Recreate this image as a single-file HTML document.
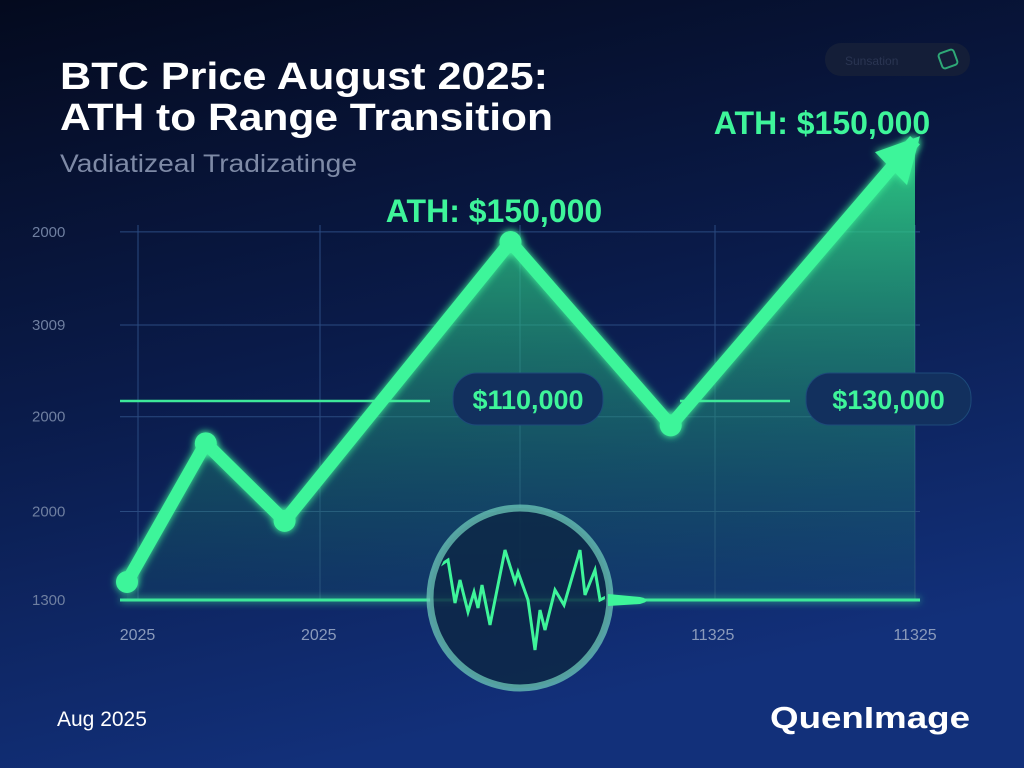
<!DOCTYPE html>
<html><head><meta charset="utf-8"><style>
html,body{margin:0;padding:0;width:1024px;height:768px;overflow:hidden;background:#07112e;}
svg{display:block;font-family:"Liberation Sans",sans-serif;}
</style></head><body>
<svg id="c" width="1024" height="768" viewBox="0 0 1024 768">
<defs>
<linearGradient id="bg" x1="0" y1="0" x2="0.3" y2="1"><stop offset="0" stop-color="#040a1e"/><stop offset="0.5" stop-color="#0a1b4a"/><stop offset="1" stop-color="#12307a"/></linearGradient>
<linearGradient id="fill" x1="0" y1="0" x2="0" y2="1"><stop offset="0" stop-color="#33e890" stop-opacity="0.85"/><stop offset="1" stop-color="#1a7a6a" stop-opacity="0.15"/></linearGradient>
<filter id="glow" filterUnits="userSpaceOnUse" x="0" y="0" width="1024" height="768"><feGaussianBlur stdDeviation="4" result="b"/><feMerge><feMergeNode in="b"/><feMergeNode in="SourceGraphic"/></feMerge></filter>
<clipPath id="lensclip"><circle cx="520" cy="598" r="85"/></clipPath>
</defs>
<rect width="1024" height="768" fill="url(#bg)"/>
<g id="grid"></g>
<g id="plot"></g>
<text x="60" y="89" font-size="38" font-weight="bold" fill="#fff" textLength="488" lengthAdjust="spacingAndGlyphs">BTC Price August 2025:</text>
<text x="60" y="130" font-size="38" font-weight="bold" fill="#fff" textLength="493" lengthAdjust="spacingAndGlyphs">ATH to Range Transition</text>
<text x="60" y="172" font-size="25" fill="#7e8aa6" textLength="297" lengthAdjust="spacingAndGlyphs">Vadiatizeal Tradizatinge</text>
<rect x="825" y="43" width="145" height="33" rx="16" fill="#141e38"/>
<text x="845" y="65" font-size="12" fill="#2a3552">Sunsation</text>
<rect x="940" y="51" width="16" height="16" rx="3" fill="none" stroke="#2ea877" stroke-width="2" transform="rotate(-20 948 59)"/>
<text x="57" y="726" font-size="21" fill="#fff">Aug 2025</text>
<text x="770" y="728" font-size="31" font-weight="bold" fill="#fff" textLength="200" lengthAdjust="spacingAndGlyphs">QuenImage</text>
</svg>
<script>
const days=[1,4,7,15.6,21.7,31];
const prices=[102300,120000,110100,145700,122300,158700];
const yTicks=["2000","3009","2000","2000","1300"];
const yTickVals=[147000,135100,123400,111300,100000];
const xTicks=["2025","2025","11325","11325"];
const xTickDays=[1.4,8.3,23.3,31];
const refLevels=[125400,125400];
const refLabels=["$110,000","$130,000"];
const athLabels=["ATH: $150,000","ATH: $150,000"];
const NS="http://www.w3.org/2000/svg";
const X=d=>127+(d-1)*(915-127)/30;
const Y=p=>600-(p-100000)*470/60000;
function mk(t,a,par){const e=document.createElementNS(NS,t);for(const k in a)e.setAttribute(k,a[k]);(par||document.getElementById('plot')).appendChild(e);return e;}
const grid=document.getElementById('grid');
[138,320,520,715,915].forEach(x=>{const l=mk('line',{x1:x,y1:225,x2:x,y2:600,stroke:'#2a4a80','stroke-width':1},grid);});
yTickVals.forEach((v,i)=>{const y=Y(v);const l=mk('line',{x1:120,y1:y,x2:920,y2:y,stroke:'#2a4a80','stroke-width':1},grid);
const t=mk('text',{x:32,y:y+5,'font-size':15,fill:'#6f7fa0'},grid);t.textContent=yTicks[i];});
xTickDays.forEach((d,i)=>{const t=mk('text',{x:X(d),y:640,'font-size':16,fill:'#8a9abb','text-anchor':'middle'},grid);t.textContent=xTicks[i];});
const pts=days.map((d,i)=>[X(d),Y(prices[i])]);
const area=mk('path',{d:'M'+pts.map(p=>p.join(',')).join('L')+`L${pts[pts.length-1][0]},600L${pts[0][0]},600Z`,fill:'url(#fill)'});

const axis=mk('line',{x1:120,y1:600,x2:920,y2:600,stroke:'#3ee89a','stroke-width':3,filter:'url(#glow)'});

refLevels.forEach((v,i)=>{const y=Y(v);const x1=i?680:120,x2=i?790:430;const l=mk('line',{x1,y1:y,x2,y2:y,stroke:'#3ee89a','stroke-width':2.5});});
const line=mk('polyline',{points:pts.map(p=>p.join(',')).join(' '),fill:'none',stroke:'#3ef59a','stroke-width':13,'stroke-linejoin':'miter',filter:'url(#glow)'});

const lp=pts[pts.length-1];
const arrow=mk('polygon',{points:`${lp[0]+5},${lp[1]-4} ${lp[0]-40},${lp[1]+12} ${lp[0]-8},${lp[1]+45}`,fill:'#3ef59a',filter:'url(#glow)'});

pts.slice(0,5).forEach(p=>{const c=mk('circle',{cx:p[0],cy:p[1],r:11,fill:'#3ef59a',filter:'url(#glow)'});});
[[453,373,150],[806,373,165]].forEach((b,i)=>{const r=mk('rect',{x:b[0],y:b[1],width:b[2],height:52,rx:24,fill:'#12305e',stroke:'#1d4a7a'});
const t=mk('text',{x:b[0]+b[2]/2,y:b[1]+36,'font-size':27,'font-weight':'bold',fill:'#3ef59a','text-anchor':'middle'});t.textContent=refLabels[i];});
[[494,222],[822,134]].forEach((a,i)=>{const t=mk('text',{x:a[0],y:a[1],'font-size':32,'font-weight':'bold',fill:'#3ef59a','text-anchor':'middle'});t.textContent=athLabels[i];});
const lens=mk('circle',{cx:520,cy:598,r:90,fill:'#0d2846','fill-opacity':0.85,stroke:'#6cc8b8','stroke-width':7,'stroke-opacity':0.75});
const noise=[[433,570],[448,560],[455,603],[460,580],[468,612],[474,592],[478,608],[482,585],[490,625],[505,550],[515,582],[518,572],[528,600],[535,650],[540,610],[545,630],[555,590],[564,605],[580,550],[585,595],[595,570],[600,600],[610,595]];
const nz=mk('polyline',{points:noise.map(p=>p.join(',')).join(' '),fill:'none',stroke:'#3ef59a','stroke-width':3,'clip-path':'url(#lensclip)'});
const tail=mk('path',{d:'M608,594 L640,597 Q654,600 640,604 L608,606Z',fill:'#3ef59a'});
</script>
</body></html>
